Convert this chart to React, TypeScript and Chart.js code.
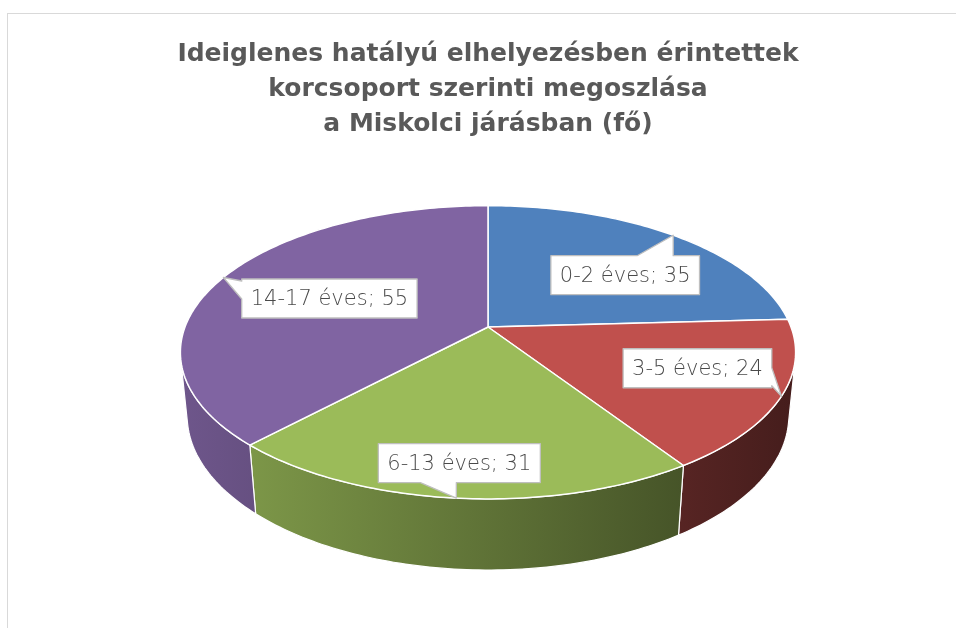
import React, { useEffect, useRef } from 'react';
import { Chart, registerables } from 'chart.js';

Chart.register(...registerables);

// ---------- data ----------
const categories = ['0-2 éves', '3-5 éves', '6-13 éves', '14-17 éves'];
const values = [35, 24, 31, 55];
const colors = ['#4F81BD', '#C0504D', '#9BBB59', '#8064A2'];
const titleLines = [
  'Ideiglenes hatályú elhelyezésben érintettek',
  'korcsoport szerinti megoszlása',
  'a Miskolci járásban (fő)',
];

// ---------- layout (3D view + label placement) ----------
const VIEW_TILT = (28 * Math.PI) / 180; // camera tilt
const VIEW_DIST = 5.12; // camera distance in pie radii
const VIEW_SCALE = 303; // px per radius at centre depth
const VERTEX_Y = 313; // canvas y of pie centre
const PIE_DEPTH = 0.24; // thickness in radii
const labelOffsets: [number, number][] = [
  [-48, 40],
  [-84, -28],
  [3, -35],
  [106, 21],
];
const LABEL_FONT = '200 21px "DejaVu Sans", sans-serif';
const LABEL_PAD_X = 9;
const LABEL_H = 39;

function shade(hex: string, f: number) {
  const n = parseInt(hex.slice(1), 16);
  const r = Math.round(((n >> 16) & 255) * f);
  const g = Math.round(((n >> 8) & 255) * f);
  const b = Math.round((n & 255) * f);
  return `rgb(${r},${g},${b})`;
}

const pie3d = {
  id: 'pie3d',
  beforeDatasetsDraw(chart: any) {
    const ctx: CanvasRenderingContext2D = chart.ctx;
    const meta = chart.getDatasetMeta(0);
    const arcs = meta.data as any[];
    if (!arcs.length) return false;
    const cx = arcs[0].x;
    const cy = VERTEX_Y;
    const S = Math.sin(VIEW_TILT);
    const C = Math.cos(VIEW_TILT);
    const D = VIEW_DIST;
    const F = VIEW_SCALE * D;
    const proj = (phi: number, z: number): [number, number] => {
      const X = Math.cos(phi);
      const Y = Math.sin(phi);
      const d = D - Y * C - z * S;
      return [cx + (F * X) / d, cy + (F * (Y * S - z * C)) / d];
    };
    const H = -PIE_DEPTH;
    const phiMin = Math.asin(1 / (D * C));
    const phiMax = Math.PI - phiMin;
    const left = proj(Math.PI - phiMin, 0)[0];
    const right = proj(phiMin, 0)[0];

    ctx.save();
    ctx.lineJoin = 'round';
    // side walls
    arcs.forEach((arc: any, i: number) => {
      const lo = Math.max(arc.startAngle, phiMin);
      const hi = Math.min(arc.endAngle, phiMax);
      if (hi <= lo) return;
      const n = Math.max(8, Math.ceil(((hi - lo) * 180) / Math.PI));
      ctx.beginPath();
      for (let k = 0; k <= n; k++) {
        const p = proj(lo + ((hi - lo) * k) / n, 0);
        if (k === 0) ctx.moveTo(p[0], p[1]);
        else ctx.lineTo(p[0], p[1]);
      }
      for (let k = n; k >= 0; k--) {
        const p = proj(lo + ((hi - lo) * k) / n, H);
        ctx.lineTo(p[0], p[1]);
      }
      ctx.closePath();
      const g = ctx.createLinearGradient(left, 0, right, 0);
      g.addColorStop(0, shade(colors[i], 0.86));
      g.addColorStop(1, shade(colors[i], 0.36));
      ctx.fillStyle = g;
      ctx.fill();
      ctx.strokeStyle = '#ffffff';
      ctx.lineWidth = 1.2;
      ctx.stroke();
    });
    // top faces
    arcs.forEach((arc: any, i: number) => {
      const a = arc.startAngle;
      const b = arc.endAngle;
      const n = Math.max(8, Math.ceil(((b - a) * 180) / Math.PI));
      ctx.beginPath();
      ctx.moveTo(cx, cy);
      for (let k = 0; k <= n; k++) {
        const p = proj(a + ((b - a) * k) / n, 0);
        ctx.lineTo(p[0], p[1]);
      }
      ctx.closePath();
      ctx.fillStyle = colors[i];
      ctx.fill();
      ctx.strokeStyle = '#ffffff';
      ctx.lineWidth = 1.5;
      ctx.stroke();
    });

    // callout labels
    ctx.font = LABEL_FONT;
    arcs.forEach((arc: any, i: number) => {
      const mid = (arc.startAngle + arc.endAngle) / 2;
      const tip = proj(mid, 0);
      const text = `${categories[i]}; ${values[i]}`;
      const w = ctx.measureText(text).width + LABEL_PAD_X * 2;
      const h = LABEL_H;
      const bx = tip[0] + labelOffsets[i][0] - w / 2;
      const by = tip[1] + labelOffsets[i][1] - h / 2;
      const x1 = bx;
      const x2 = bx + w;
      const y1 = by;
      const y2 = by + h;
      const dx = tip[0] < x1 ? x1 - tip[0] : tip[0] > x2 ? tip[0] - x2 : 0;
      const dy = tip[1] < y1 ? y1 - tip[1] : tip[1] > y2 ? tip[1] - y2 : 0;
      let edge: string;
      if (dy >= dx) edge = tip[1] < y1 ? 'top' : 'bottom';
      else edge = tip[0] < x1 ? 'left' : 'right';
      const seg = (lo: number, hi: number, t: number, len: number): [number, number] => {
        const c = Math.min(Math.max(t, lo + 2), hi - 20);
        if (c - len >= lo + 2) return [c - len, c];
        return [c, Math.min(c + len, hi - 2)];
      };
      const segV = (lo: number, hi: number, t: number, len: number): [number, number] => {
        const c = Math.min(Math.max(t, lo + 2), hi - 2);
        if (c - len >= lo + 2) return [c - len, c];
        return [c, Math.min(c + len, hi - 2)];
      };
      ctx.beginPath();
      ctx.moveTo(x1, y1);
      if (edge === 'top') {
        const [s0, s1] = seg(x1, x2, tip[0], 36);
        ctx.lineTo(s0, y1);
        ctx.lineTo(tip[0], tip[1]);
        ctx.lineTo(s1, y1);
      }
      ctx.lineTo(x2, y1);
      if (edge === 'right') {
        const [s0, s1] = segV(y1, y2, tip[1], 18);
        ctx.lineTo(x2, s0);
        ctx.lineTo(tip[0], tip[1]);
        ctx.lineTo(x2, s1);
      }
      ctx.lineTo(x2, y2);
      if (edge === 'bottom') {
        const [s0, s1] = seg(x1, x2, tip[0], 36);
        ctx.lineTo(s1, y2);
        ctx.lineTo(tip[0], tip[1]);
        ctx.lineTo(s0, y2);
      }
      ctx.lineTo(x1, y2);
      if (edge === 'left') {
        const [s0, s1] = segV(y1, y2, tip[1], 18);
        ctx.lineTo(x1, s1);
        ctx.lineTo(tip[0], tip[1]);
        ctx.lineTo(x1, s0);
      }
      ctx.closePath();
      ctx.fillStyle = '#ffffff';
      ctx.fill();
      ctx.strokeStyle = '#bfbfbf';
      ctx.lineWidth = 1.3;
      ctx.stroke();
      ctx.fillStyle = '#4a4a4a';
      ctx.textAlign = 'center';
      ctx.textBaseline = 'middle';
      ctx.fillText(text, bx + w / 2, by + h / 2 + 1);
    });
    ctx.restore();
    return false;
  },
};

export default function App() {
  const ref = useRef<HTMLCanvasElement | null>(null);
  useEffect(() => {
    if (!ref.current) return;
    const chart = new Chart(ref.current, {
      type: 'pie',
      data: {
        labels: categories,
        datasets: [{ data: values, backgroundColor: colors, borderColor: '#ffffff' }],
      },
      options: {
        responsive: false,
        animation: false,
        devicePixelRatio: 1,
        layout: { padding: 0 },
        plugins: {
          legend: { display: false },
          tooltip: { enabled: false },
          title: {
            display: true,
            text: titleLines,
            color: '#595959',
            font: { family: '"DejaVu Sans", sans-serif', size: 25, weight: 'bold', lineHeight: 35 / 25 },
            padding: { top: 23, bottom: 10 },
          },
        },
      },
      plugins: [pie3d as any],
    });
    return () => chart.destroy();
  }, []);
  return (
    <div
      style={{
        position: 'absolute',
        left: 7,
        top: 13,
        width: 949,
        height: 615,
        overflow: 'hidden',
        borderTop: '1px solid #d9d9d9',
        borderLeft: '1px solid #d9d9d9',
        boxSizing: 'border-box',
        background: '#ffffff',
      }}
    >
      <canvas ref={ref} width={960} height={620} style={{ display: 'block' }} />
    </div>
  );
}
